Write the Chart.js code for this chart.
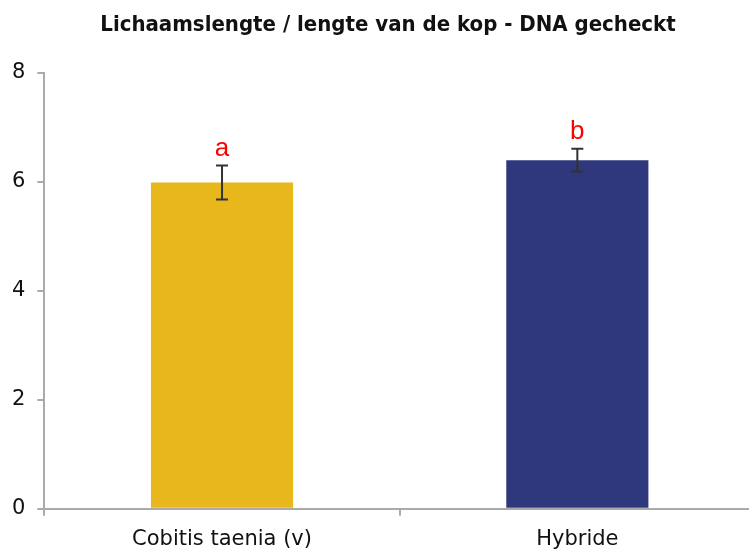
<!DOCTYPE html>
<html>
<head>
<meta charset="utf-8">
<script src="https://cdn.jsdelivr.net/npm/chart.js@4/dist/chart.umd.min.js"></script>
<style>
  html, body { margin: 0; padding: 0; background: #fff; overflow: hidden; }
  #wrap { width: 760px; height: 563px; position: relative; }
</style>
</head>
<body>
<div id="wrap"><canvas id="myChart"></canvas></div>
<script>
// Chart data
var categories = ['Cobitis taenia (v)', 'Hybride'];
var means = [5.99, 6.40];
var errors = [0.31, 0.21];
var letters = ['a', 'b'];
var barColors = ['#E8B71B', '#2F387D'];
var yTicks = [0, 2, 4, 6, 8];

var titleText = 'Lichaamslengte / lengte van de kop - DNA gecheckt';
var fontFamily = '"DejaVu Sans", sans-serif';
var titleFont = '"DejaVu Sans Condensed", "DejaVu Sans", sans-serif';

// error bars, significance letters and title
var extrasPlugin = {
    id: 'extras',
    afterDatasetsDraw: function (chart) {
        var ctx = chart.ctx;
        var x = chart.scales.x, y = chart.scales.y;
        ctx.save();
        ctx.strokeStyle = '#333';
        ctx.lineWidth = 2;
        means.forEach(function (m, i) {
            var cx = x.getPixelForValue(i);
            var top = y.getPixelForValue(m + errors[i]);
            var bot = y.getPixelForValue(m - errors[i]);
            ctx.beginPath();
            ctx.moveTo(cx, top); ctx.lineTo(cx, bot);
            ctx.moveTo(cx - 6, top); ctx.lineTo(cx + 6, top);
            ctx.moveTo(cx - 6, bot); ctx.lineTo(cx + 6, bot);
            ctx.stroke();
            ctx.fillStyle = '#FF0000';
            ctx.font = '26px "Liberation Sans", Arial, sans-serif';
            ctx.textAlign = 'center';
            ctx.textBaseline = 'alphabetic';
            ctx.fillText(letters[i], cx, top - 10);
        });
        ctx.fillStyle = '#111';
        ctx.font = 'bold 22px ' + titleFont;
        ctx.textAlign = 'center';
        ctx.textBaseline = 'middle';
        ctx.fillText(titleText, 388, 25);
        ctx.restore();
    }
};

var ctx = document.getElementById('myChart').getContext('2d');

var myChart = new Chart(ctx, {
    type: 'bar',
    data: {
        labels: categories,
        datasets: [{
            data: means,
            backgroundColor: barColors,
            borderWidth: 0,
            barPercentage: 0.4,
            categoryPercentage: 1.0
        }]
    },
    options: {
        responsive: true,
        maintainAspectRatio: false,
        animation: false,
        layout: { padding: { top: 73, left: 0, right: 5, bottom: 0 } },
        plugins: {
            legend: { display: false },
            title: { display: false },
            tooltip: { enabled: false }
        },
        scales: {
            x: {
                grid: { drawOnChartArea: false, tickLength: 7, color: '#AAAAAA', lineWidth: 2 },
                border: { color: '#AAAAAA', width: 2 },
                ticks: { color: '#111', font: { family: fontFamily, size: 21 }, padding: 11 }
            },
            y: {
                min: 0,
                max: 8,
                afterBuildTicks: function (axis) {
                    axis.ticks = yTicks.map(function (v) { return { value: v }; });
                },
                grid: { drawOnChartArea: false, tickLength: 7, color: '#AAAAAA', lineWidth: 2 },
                border: { color: '#AAAAAA', width: 2 },
                ticks: { color: '#111', font: { family: fontFamily, size: 21 }, padding: 12 }
            }
        }
    },
    plugins: [extrasPlugin]
});
</script>
</body>
</html>
